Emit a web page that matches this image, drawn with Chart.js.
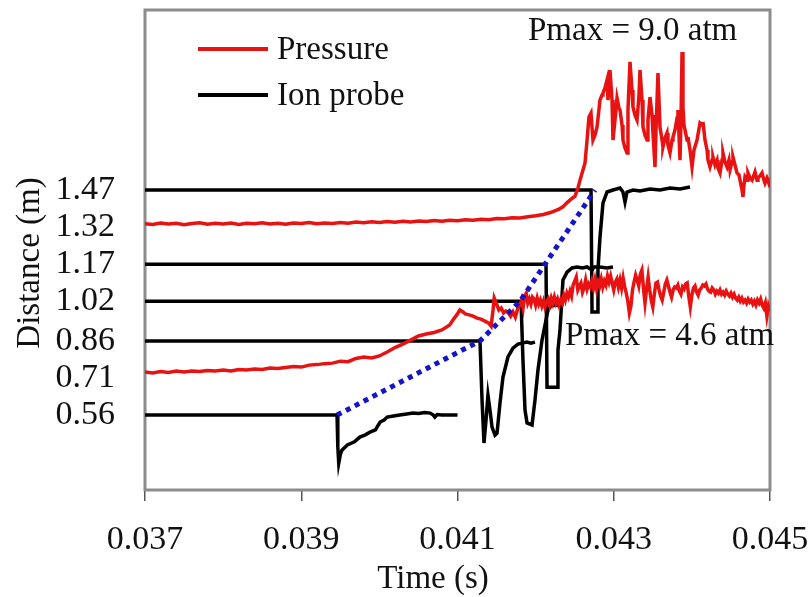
<!DOCTYPE html>
<html>
<head>
<meta charset="utf-8">
<script src="https://cdn.jsdelivr.net/npm/chart.js@4.4.1/dist/chart.umd.min.js"></script>
<style>
  body { margin: 0; background: #fff; }
  canvas { display: block; }
</style>
</head>
<body>
<canvas id="chart" width="809" height="597"></canvas>
<script>
// axis ticks
var xTicks = [0.037, 0.039, 0.041, 0.043, 0.045];
var yTicks = [0.56, 0.71, 0.86, 1.02, 1.17, 1.32, 1.47];

// all times below are in ms, distances / offset signals in m

// pressure trace plotted at the 1.32 m station (Pmax = 9.0 atm)
var pressureHigh = [
  [37.0,1.334],[37.1,1.331],[37.2,1.337],[37.3,1.333],[37.4,1.336],[37.5,1.330],[37.6,1.335],[37.7,1.338],
  [37.8,1.332],[37.9,1.336],[38.0,1.333],[38.1,1.337],[38.2,1.331],[38.3,1.336],[38.4,1.334],[38.5,1.338],
  [38.6,1.333],[38.7,1.336],[38.8,1.332],[38.9,1.337],[39.0,1.335],[39.1,1.339],[39.2,1.334],[39.3,1.337],
  [39.4,1.335],[39.5,1.339],[39.6,1.336],[39.7,1.341],[39.8,1.338],[39.9,1.342],[40.0,1.339],[40.1,1.343],
  [40.2,1.340],[40.3,1.344],[40.4,1.341],[40.5,1.345],[40.6,1.343],[40.7,1.347],[40.8,1.344],[40.9,1.348],
  [41.0,1.346],[41.1,1.350],[41.2,1.348],[41.3,1.352],[41.4,1.350],[41.5,1.355],[41.6,1.354],[41.7,1.358],
  [41.8,1.357],[41.9,1.362],[42.0,1.366],[42.1,1.371],[42.2,1.380],[42.3,1.393],[42.35,1.402],[42.4,1.418],
  [42.45,1.432],[42.504,1.445],[42.542,1.478],[42.568,1.510],[42.606,1.551],[42.632,1.579],[42.658,1.672],
  [42.683,1.765],[42.709,1.781],[42.734,1.672],[42.76,1.692],[42.786,1.725],[42.824,1.834],[42.85,1.854],
  [42.862,1.862],[42.888,1.883],[42.914,1.915],[42.926,1.834],[42.952,1.955],[42.978,1.834],[42.99,1.672],
  [43.016,1.753],[43.042,1.842],[43.067,1.802],[43.08,1.794],[43.106,1.733],[43.118,1.672],[43.144,1.640],
  [43.17,1.620],[43.182,1.794],[43.208,1.988],[43.234,1.874],[43.246,1.806],[43.272,1.773],[43.298,1.753],
  [43.323,1.854],[43.336,1.955],[43.362,1.834],[43.374,1.725],[43.4,1.692],[43.426,1.672],[43.438,1.753],
  [43.464,1.846],[43.49,1.773],[43.502,1.701],[43.528,1.563],[43.541,1.713],[43.566,1.943],[43.579,1.834],
  [43.592,1.725],[43.618,1.672],[43.63,1.644],[43.656,1.680],[43.682,1.701],[43.694,1.652],[43.72,1.620],
  [43.746,1.672],[43.758,1.684],[43.784,1.713],[43.81,1.761],[43.822,1.794],[43.848,1.591],[43.861,1.753],
  [43.874,2.028],[43.886,1.806],[43.899,1.733],[43.912,1.713],[43.938,1.672],[43.95,1.684],[43.976,1.632],
  [44.002,1.563],[44.027,1.632],[44.066,1.672],[44.104,1.741],[44.13,1.733],[44.142,1.745],[44.168,1.672],
  [44.194,1.632],[44.206,1.591],[44.232,1.563],[44.258,1.591],[44.27,1.603],[44.296,1.571],[44.322,1.591],
  [44.334,1.559],[44.36,1.539],[44.386,1.591],[44.398,1.620],[44.424,1.583],[44.45,1.563],[44.475,1.591],
  [44.488,1.551],[44.514,1.583],[44.526,1.603],[44.552,1.571],[44.578,1.539],[44.603,1.531],[44.616,1.510],
  [44.642,1.470],[44.654,1.442],[44.667,1.490],[44.68,1.523],[44.706,1.510],[44.718,1.539],[44.744,1.519],
  [44.77,1.510],[44.795,1.531],[44.808,1.543],[44.834,1.510],[44.846,1.519],[44.872,1.527],[44.898,1.539],
  [44.923,1.510],[44.936,1.498],[44.962,1.519],[44.974,1.510],[45.0,1.482]
];

// pressure trace plotted at the 0.71 m station (Pmax = 4.6 atm)
var pressureLow = [
  [37.0,0.734],[37.1,0.730],[37.2,0.736],[37.3,0.732],[37.4,0.738],[37.5,0.734],[37.6,0.738],[37.7,0.736],
  [37.8,0.740],[37.9,0.738],[38.0,0.742],[38.1,0.738],[38.2,0.744],[38.3,0.742],[38.4,0.746],[38.5,0.744],
  [38.6,0.750],[38.7,0.748],[38.8,0.752],[38.9,0.756],[39.0,0.754],[39.1,0.762],[39.2,0.764],[39.3,0.768],
  [39.4,0.770],[39.5,0.778],[39.6,0.776],[39.7,0.789],[39.8,0.795],[39.9,0.791],[40.0,0.799],[40.1,0.815],
  [40.2,0.833],[40.3,0.847],[40.4,0.863],[40.5,0.880],[40.6,0.888],[40.7,0.894],[40.8,0.904],[40.9,0.924],
  [40.95,0.948],[41.0,0.969],[41.03,0.985],[41.07,0.977],[41.1,0.969],[41.15,0.965],[41.2,0.960],[41.25,0.952],
  [41.3,0.948],[41.35,0.940],[41.4,0.932],[41.43,0.920],[41.455,0.985],[41.47,1.033],[41.49,1.017],[41.51,1.001],
  [41.53,0.985],[41.56,0.993],[41.59,0.973],[41.62,0.981],[41.65,0.973],[41.68,0.960],[41.71,0.977],[41.74,0.956],
  [41.77,0.989],[41.8,1.005],[41.82,1.025],[41.84,0.993],[41.86,1.041],[41.88,1.053],[41.9,1.013],[41.92,1.029],
  [41.94,1.009],[41.96,1.037],[41.98,1.029],[42.0,1.005],[42.02,1.033],[42.04,1.009],[42.06,1.025],[42.08,1.001],
  [42.1,1.021],[42.12,0.997],[42.14,1.017],[42.16,1.029],[42.18,1.005],[42.2,1.033],[42.22,1.013],[42.24,1.037],
  [42.26,1.013],[42.28,1.029],[42.3,1.005],[42.32,1.025],[42.34,1.013],[42.36,1.045],[42.38,1.025],[42.4,1.053],
  [42.42,1.037],[42.44,1.061],[42.46,1.041],[42.48,1.086],[42.5,1.102],[42.52,1.118],[42.54,1.066],[42.56,1.082],
  [42.58,1.094],[42.6,1.057],[42.62,1.074],[42.64,1.106],[42.66,1.070],[42.68,1.090],[42.7,1.078],[42.72,1.102],
  [42.74,1.074],[42.76,1.106],[42.78,1.070],[42.8,1.098],[42.82,1.082],[42.84,1.110],[42.86,1.078],[42.88,1.102],
  [42.9,1.086],[42.92,1.122],[42.94,1.098],[42.96,1.122],[42.98,1.094],[43.0,1.066],[43.02,1.098],[43.04,1.110],
  [43.06,1.078],[43.08,1.106],[43.1,1.074],[43.12,1.114],[43.14,1.078],[43.16,1.053],[43.18,1.021],[43.2,0.973],
  [43.22,1.001],[43.24,1.066],[43.26,1.098],[43.28,1.126],[43.3,1.106],[43.32,1.082],[43.34,1.130],[43.36,1.146],
  [43.38,1.074],[43.4,1.013],[43.42,1.070],[43.44,1.118],[43.46,1.066],[43.48,1.025],[43.5,0.997],[43.52,1.049],
  [43.54,1.094],[43.56,1.098],[43.58,1.066],[43.6,1.041],[43.62,1.025],[43.64,1.057],[43.66,1.090],[43.68,1.106],
  [43.7,1.082],[43.72,1.057],[43.74,1.037],[43.76,1.066],[43.78,1.078],[43.8,1.074],[43.82,1.086],[43.84,1.061],
  [43.86,1.049],[43.88,1.078],[43.9,1.070],[43.92,1.090],[43.94,1.094],[43.96,1.041],[43.98,0.997],[44.0,1.045],
  [44.02,1.074],[44.04,1.082],[44.06,1.057],[44.08,1.045],[44.1,1.066],[44.12,1.074],[44.14,1.086],[44.16,1.082],
  [44.18,1.090],[44.2,1.070],[44.22,1.061],[44.24,1.057],[44.26,1.074],[44.28,1.066],[44.3,1.049],[44.32,1.061],
  [44.34,1.053],[44.36,1.066],[44.38,1.049],[44.4,1.057],[44.42,1.045],[44.44,1.061],[44.46,1.049],[44.48,1.041],
  [44.5,1.053],[44.52,1.037],[44.54,1.049],[44.56,1.033],[44.58,1.025],[44.6,1.037],[44.62,1.021],[44.64,1.033],
  [44.66,1.017],[44.68,1.025],[44.7,1.013],[44.72,1.029],[44.74,1.017],[44.76,1.025],[44.78,1.009],[44.8,1.021],
  [44.82,1.005],[44.84,1.025],[44.86,1.013],[44.88,1.029],[44.9,1.005],[44.92,0.993],[44.94,1.013],[44.96,0.960],
  [44.98,1.001],[45.0,0.981]
];

// ion probe signals, one per station
var probe056 = [
  [37.0,0.56],[39.458,0.56],[39.468,0.43],[39.48,0.366],[39.5,0.40],[39.52,0.418],[39.59,0.439],[39.68,0.452],
  [39.75,0.471],[39.82,0.480],[39.88,0.491],[39.95,0.500],[39.97,0.511],[40.01,0.532],[40.06,0.540],[40.1,0.552],
  [40.18,0.556],[40.26,0.560],[40.35,0.564],[40.43,0.568],[40.5,0.566],[40.58,0.570],[40.65,0.568],[40.69,0.560],
  [40.71,0.552],[40.74,0.562],[40.8,0.560],[41.0,0.560]
];
var probe086 = [
  [37.0,0.86],[41.288,0.86],[41.314,0.621],[41.339,0.447],[41.365,0.54],[41.39,0.641],[41.416,0.58],[41.442,0.511],
  [41.48,0.479],[41.506,0.487],[41.544,0.609],[41.582,0.714],[41.646,0.795],[41.71,0.831],[41.774,0.847],
  [41.826,0.851],[41.89,0.855],[41.94,0.851],[41.992,0.855]
];
var probe102 = [
  [37.0,1.02],[41.813,1.02],[41.838,0.782],[41.864,0.58],[41.89,0.528],[41.954,0.52],[41.992,0.621],[42.03,0.742],
  [42.082,0.863],[42.12,0.924],[42.158,0.985],[42.197,1.001],[42.261,1.005],[42.31,1.001],[42.35,1.009]
];
var probe117 = [
  [37.0,1.17],[42.133,1.17],[42.146,0.673],[42.274,0.673],[42.286,0.823],[42.312,0.904],[42.35,1.106],
  [42.402,1.138],[42.466,1.155],[42.53,1.159],[42.6,1.155],[42.658,1.159],[42.722,1.146],[42.747,1.159],
  [42.824,1.159],[42.914,1.155],[42.99,1.159]
];
var probe147 = [
  [37.0,1.47],[42.709,1.47],[42.722,0.977],[42.786,0.977],[42.798,1.146],[42.824,1.28],[42.862,1.417],
  [42.914,1.462],[42.99,1.47],[43.08,1.478],[43.118,1.462],[43.144,1.421],[43.17,1.462],[43.246,1.47],
  [43.336,1.466],[43.464,1.474],[43.592,1.47],[43.72,1.478],[43.848,1.474],[43.976,1.482]
];

// flame arrival (blue dotted)
var arrivalTime = [39.458, 41.288, 41.8, 42.12, 42.76];
var arrivalDist = [0.56, 0.86, 1.02, 1.17, 1.47];

var RED = '#e81212';
var SERIF = "'Liberation Serif', 'Times New Roman', serif";

function toPts(arr) {
  return arr.map(function (p) { return { x: p[0] / 1000, y: p[1] }; });
}

function probeSet(arr) {
  return { data: toPts(arr), borderColor: '#000', borderWidth: 3.5, pointRadius: 0 };
}

// drop the label overflow padding chart.js adds, so the plot box sits where the layout says
function noScalePad(s) {
  s.paddingTop = 0; s.paddingBottom = 0; s.paddingLeft = 0; s.paddingRight = 0;
}

var decor = {
  id: 'decor',
  beforeDatasetsDraw: function (chart) {
    var a = chart.chartArea, c = chart.ctx;
    c.save();
    c.strokeStyle = '#8c8c8c';
    c.lineWidth = 3;
    c.strokeRect(a.left, a.top, a.right - a.left, a.bottom - a.top);
    c.restore();
  },
  afterDraw: function (chart) {
    var c = chart.ctx;
    c.save();
    // legend
    c.lineWidth = 4;
    c.strokeStyle = RED;
    c.beginPath(); c.moveTo(198, 49); c.lineTo(268, 49); c.stroke();
    c.strokeStyle = '#000';
    c.beginPath(); c.moveTo(198, 95); c.lineTo(268, 95); c.stroke();
    c.fillStyle = '#111';
    c.font = '33px ' + SERIF;
    c.textBaseline = 'middle';
    c.textAlign = 'left';
    c.fillText('Pressure', 277, 50);
    c.fillText('Ion probe', 277, 96);
    // peak pressure notes
    c.fillText('Pmax = 9.0 atm', 528, 31);
    c.fillText('Pmax = 4.6 atm', 565, 336);
    // axis titles
    c.font = '33px ' + SERIF;
    c.textAlign = 'center';
    c.fillText('Time (s)', 433, 579);
    c.translate(30, 263);
    c.rotate(-Math.PI / 2);
    c.fillText('Distance (m)', 0, 0);
    c.restore();
  }
};

Chart.defaults.font.family = SERIF;
Chart.defaults.color = '#111';

new Chart(document.getElementById('chart').getContext('2d'), {
  type: 'line',
  data: {
    datasets: [
      {
        data: arrivalTime.map(function (t, i) { return { x: t / 1000, y: arrivalDist[i] }; }),
        borderColor: '#1414c8', borderWidth: 5, borderDash: [5, 5], borderCapStyle: 'butt', pointRadius: 0
      },
      { data: toPts(pressureHigh), borderColor: RED, borderWidth: 3.5, pointRadius: 0 },
      { data: toPts(pressureLow), borderColor: RED, borderWidth: 3.5, pointRadius: 0 },
      probeSet(probe147),
      probeSet(probe117),
      probeSet(probe102),
      probeSet(probe086),
      probeSet(probe056)
    ]
  },
  options: {
    responsive: false,
    animation: false,
    layout: { padding: { left: 0, right: 39, top: 10, bottom: 0 } },
    plugins: { legend: { display: false }, tooltip: { enabled: false } },
    elements: { line: { tension: 0 } },
    scales: {
      x: {
        type: 'linear',
        min: 0.037,
        max: 0.045,
        afterBuildTicks: function (s) { s.ticks = xTicks.map(function (v) { return { value: v }; }); },
        afterFit: function (s) { s.height = 107; noScalePad(s); },
        ticks: {
          callback: function (v) { return v.toFixed(3); },
          font: { size: 34 },
          padding: 19,
          maxRotation: 0,
          autoSkip: false
        },
        grid: { drawOnChartArea: false, drawTicks: true, tickLength: 11, color: '#555', lineWidth: 1.5 },
        border: { display: true, color: '#555', width: 1.5 }
      },
      y: {
        type: 'linear',
        min: 0.257,
        max: 2.198,
        afterBuildTicks: function (s) { s.ticks = yTicks.map(function (v) { return { value: v }; }); },
        afterFit: function (s) { s.width = 145; noScalePad(s); },
        ticks: {
          callback: function (v) { return v.toFixed(2); },
          font: { size: 34 },
          padding: 30
        },
        grid: { display: false, drawTicks: false },
        border: { display: false }
      }
    }
  },
  plugins: [decor]
});
</script>
</body>
</html>
